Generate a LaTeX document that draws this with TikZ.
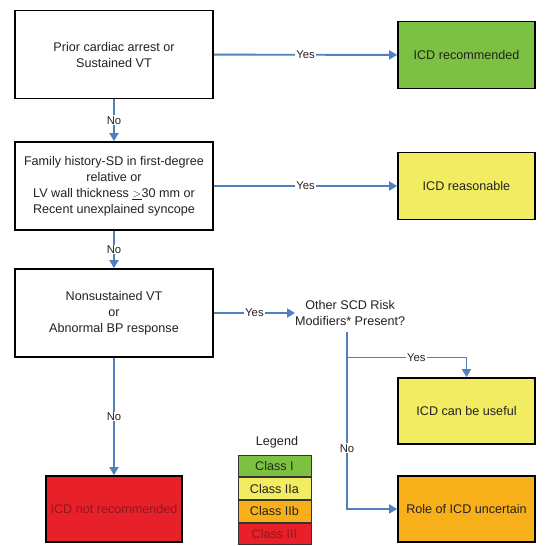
\documentclass[tikz,border=0pt]{standalone}
\usepackage{fontspec}
\setmainfont{Liberation Sans}
\usetikzlibrary{arrows.meta,positioning}
\definecolor{cgreen}{HTML}{7DC142}
\definecolor{cyellow}{HTML}{F2EC62}
\definecolor{corange}{HTML}{F8B01A}
\definecolor{cred}{HTML}{E8202A}
\definecolor{cdarkred}{HTML}{8E1A1E}
\definecolor{cline}{HTML}{4F81BD}
\definecolor{ctext}{HTML}{222222}
\tikzset{
  qbox/.style={draw=black, line width=1.8pt, fill=white, minimum width=198pt, minimum height=88pt, align=center, font=\fontsize{12.6}{16}\selectfont, text=ctext, inner sep=0pt},
  abox/.style={draw=black, line width=1.8pt, minimum width=137pt, minimum height=66pt, align=center, font=\fontsize{12.6}{16}\selectfont, text=ctext, inner sep=0pt},
  conn/.style={draw=cline, line width=1.9pt},
  arr/.style={conn, -{Triangle[width=9pt,length=8pt]}},
  lbl/.style={fill=white, inner sep=1pt, font=\fontsize{11.3}{13}\selectfont, text=ctext},
  leg/.style={draw=black!80, line width=0.9pt, minimum width=73pt, minimum height=21.75pt, inner sep=0pt, font=\fontsize{12.6}{14}\selectfont},
}
\begin{document}
\begin{tikzpicture}[x=1pt,y=-1pt]
\useasboundingbox[fill=white] (0,0) rectangle (547,546);
% question boxes
\node[qbox] (q1) at (114,54.5) {Prior cardiac arrest or\\Sustained VT};
\node[qbox] (q2) at (114,186) {Family history-SD in first-degree\\relative or\\LV wall thickness $\underline{>}$30 mm or\\Recent unexplained syncope};
\node[qbox] (q3) at (114,313) {Nonsustained VT\\or\\Abnormal BP response};
% answer boxes
\node[abox, fill=cgreen, minimum height=67pt] (a1) at (466.5,55) {ICD recommended};
\node[abox, fill=cyellow, minimum height=67pt] (a2) at (466.5,186) {ICD reasonable};
\node[abox, fill=cyellow] (a3) at (466.5,411) {ICD can be useful};
\node[abox, fill=corange] (a4) at (466.5,509) {Role of ICD uncertain};
\node[abox, fill=cred, minimum width=136pt, text=cdarkred] (a5) at (114,509) {ICD not recommended};
% decision text
\node[align=center, inner sep=0pt, font=\fontsize{12.6}{16}\selectfont, text=ctext, anchor=west] (dec) at (295,313) {Other SCD Risk\\Modifiers* Present?};
\coordinate (dtop) at (347,332);
\coordinate (dbranch) at (347,357.5);
\coordinate (dcorner) at (347,509);
\coordinate (ycorner) at (466.5,357.5);
% connectors
\draw[arr] (q1) -- node[lbl]{Yes} (a1);
\draw[arr] (q2) -- node[lbl, pos=0.5]{Yes} (a2);
\draw[arr] (q1) -- node[lbl]{No} (q2);
\draw[arr] (q2) -- node[lbl]{No} (q3);
\draw[arr] (q3.east) -- node[lbl, pos=0.5]{Yes} (dec.west);
\draw[arr] (q3) -- node[lbl, pos=0.5]{No} (a5);
\draw[conn] (dtop) -- (dbranch);
\draw[arr] (dbranch) -- node[lbl, pos=0.58]{Yes} (ycorner) -- (a3.north);
\draw[arr] (dbranch) -- node[lbl, pos=0.6]{No} (dcorner) -- (a4.west);
% legend
\node[font=\fontsize{12.6}{14}\selectfont, text=ctext] (legt) at (277,442) {Legend};
\node[leg, fill=cgreen, text=black!75!cgreen] (l1) at (274.5,466) {Class I};
\node[leg, fill=cyellow, text=ctext, below=0pt of l1] (l2) {Class IIa};
\node[leg, fill=corange, text=ctext, below=0pt of l2] (l3) {Class IIb};
\node[leg, fill=cred, text=cdarkred, below=0pt of l3] (l4) {Class III};
\end{tikzpicture}
\end{document}
